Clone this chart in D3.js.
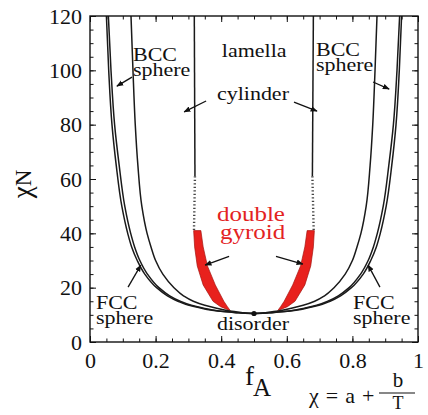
<!DOCTYPE html>
<html>
<head>
<meta charset="utf-8">
<script src="https://cdn.jsdelivr.net/npm/d3@7"></script>
<style>
body { margin: 0; background: #fff; }
text { font-family: "Liberation Serif", "Times New Roman", "DejaVu Serif", serif; fill: #111; }
</style>
</head>
<body>
<svg id="drawing_region"></svg>
<script>
// chi*N levels shared by the phase boundaries
const chiN = [120, 100, 80, 65, 50, 40, 35, 30, 25, 20, 17, 15, 13.5, 12.5, 11.8, 11.2, 10.8, 10.6, 10.5];

// f_A of each boundary at those levels
const odtLeft  = [0.050, 0.057, 0.067, 0.080, 0.097, 0.115, 0.127, 0.144, 0.167, 0.203, 0.236, 0.268, 0.302, 0.338, 0.368, 0.405, 0.445, 0.472, 0.5];
const fccLeft  = [0.056, 0.064, 0.075, 0.089, 0.106, 0.124, 0.136, 0.152, 0.175, 0.210, 0.243, 0.275, 0.309, 0.344, 0.373, 0.410, 0.448, 0.474, 0.5];
const bccLeft  = [0.125, 0.131, 0.138, 0.146, 0.158, 0.174, 0.186, 0.200, 0.222, 0.256, 0.285, 0.315, 0.350, 0.383, 0.410, 0.440, 0.465, 0.483, 0.5];
const odtRight = [0.950, 0.943, 0.933, 0.920, 0.903, 0.885, 0.873, 0.856, 0.833, 0.797, 0.764, 0.732, 0.698, 0.662, 0.632, 0.595, 0.555, 0.528, 0.5];
const fccRight = [0.944, 0.936, 0.925, 0.911, 0.894, 0.876, 0.864, 0.848, 0.825, 0.790, 0.757, 0.725, 0.691, 0.656, 0.627, 0.590, 0.552, 0.526, 0.5];
const bccRight = [0.875, 0.869, 0.862, 0.854, 0.842, 0.826, 0.814, 0.800, 0.778, 0.744, 0.715, 0.685, 0.650, 0.617, 0.590, 0.560, 0.535, 0.517, 0.5];

// cylinder / lamella boundary: solid part, dotted part
const cylChi       = [120, 61];
const cylLeft      = [0.318, 0.320];
const cylRight     = [0.681, 0.678];
const cylDotChi    = [61, 41];
const cylDotLeft   = [0.320, 0.317];
const cylDotRight  = [0.678, 0.682];

// double gyroid window
const gyrChi        = [41, 35, 28, 21, 15, 13, 11.5];
const gyrLeftOuter  = [0.316, 0.319, 0.327, 0.345, 0.375, 0.398, 0.428];
const gyrLeftInner  = [0.338, 0.345, 0.358, 0.382, 0.408, 0.419, 0.428];
const gyrRightOuter = [0.684, 0.681, 0.673, 0.655, 0.625, 0.602, 0.572];
const gyrRightInner = [0.662, 0.655, 0.642, 0.618, 0.592, 0.581, 0.572];

// critical point
const critical = [0.5, 10.5];

// tick labels
const xTicks = [0, 0.2, 0.4, 0.6, 0.8, 1];
const xMinor = [0, 0.05, 0.1, 0.15, 0.2, 0.25, 0.3, 0.35, 0.4, 0.45, 0.5, 0.55, 0.6, 0.65, 0.7, 0.75, 0.8, 0.85, 0.9, 0.95, 1];
const yTicks = [0, 20, 40, 60, 80, 100, 120];
const yMinor = d3.range(0, 121, 5);

const zip = (fs, cs) => fs.map((f, i) => [f, cs[i]]);

const W = 428, H = 415;
const mLeft = 90, mRight = 418, mTop = 16, mBottom = 342;

const svg = d3.select('#drawing_region')
    .attr('width', W)
    .attr('height', H);

const xscale = d3.scaleLinear().domain([0, 1]).range([mLeft, mRight]);
const yscale = d3.scaleLinear().domain([0, 120]).range([mBottom, mTop]);

const line = d3.line()
    .x(d => xscale(d[0]))
    .y(d => yscale(d[1]))
    .curve(d3.curveMonotoneY);

// arrow head
svg.append('defs').append('marker')
    .attr('id', 'head')
    .attr('viewBox', '0 0 10 10')
    .attr('refX', 9).attr('refY', 5)
    .attr('markerWidth', 7).attr('markerHeight', 7)
    .attr('markerUnits', 'userSpaceOnUse')
    .attr('orient', 'auto')
    .append('path')
    .attr('d', 'M0,1 L10,5 L0,9 Z')
    .attr('fill', '#111');

// gyroid regions: outer edge down, inner edge back up
const gyrLeft = zip(gyrLeftOuter, gyrChi).concat(zip(gyrLeftInner, gyrChi).reverse());
const gyrRight = zip(gyrRightOuter, gyrChi).concat(zip(gyrRightInner, gyrChi).reverse());
const edge = d3.line()
    .x(p => xscale(p[0]))
    .y(p => yscale(p[1]))
    .curve(d3.curveLinear);

svg.selectAll('.gyroid')
    .data([gyrLeft, gyrRight])
    .enter()
    .append('path')
    .attr('class', 'gyroid')
    .attr('d', d => edge(d) + 'Z')
    .attr('fill', '#e8211d')
    .attr('stroke', '#a51410')
    .attr('stroke-width', 0.7);

// phase boundaries
const bounds = [odtLeft, fccLeft, bccLeft, odtRight, fccRight, bccRight].map(fs => zip(fs, chiN));
svg.selectAll('.bound')
    .data(bounds)
    .enter()
    .append('path')
    .attr('class', 'bound')
    .attr('d', line)
    .attr('fill', 'none')
    .attr('stroke', '#1a1a1a')
    .attr('stroke-width', 1.5);

svg.selectAll('.cyl')
    .data([zip(cylLeft, cylChi), zip(cylRight, cylChi)])
    .enter()
    .append('path')
    .attr('class', 'cyl')
    .attr('d', line)
    .attr('fill', 'none')
    .attr('stroke', '#1a1a1a')
    .attr('stroke-width', 1.5);

svg.selectAll('.cyldot')
    .data([zip(cylDotLeft, cylDotChi), zip(cylDotRight, cylDotChi)])
    .enter()
    .append('path')
    .attr('class', 'cyldot')
    .attr('d', line)
    .attr('fill', 'none')
    .attr('stroke', '#444')
    .attr('stroke-width', 2.4)
    .attr('stroke-dasharray', '1.3,2.2');

svg.append('circle')
    .attr('cx', xscale(critical[0]))
    .attr('cy', yscale(critical[1]))
    .attr('r', 2.6)
    .attr('fill', '#111');

// axes (ticks inside on all four sides)
const tickStyle = g => {
    g.select('.domain').remove();
    g.selectAll('line').attr('stroke', '#111').attr('stroke-width', 1);
};
const labelStyle = g => g.selectAll('text')
    .attr('font-size', 22)
    .attr('fill', '#111');

svg.append('g').attr('transform', `translate(0,${mBottom})`)
    .call(d3.axisBottom(xscale).tickValues(xMinor).tickSize(-3.5).tickFormat(''))
    .call(tickStyle);
svg.append('g').attr('transform', `translate(0,${mTop})`)
    .call(d3.axisTop(xscale).tickValues(xMinor).tickSize(-3.5).tickFormat(''))
    .call(tickStyle);
svg.append('g').attr('transform', `translate(${mLeft},0)`)
    .call(d3.axisLeft(yscale).tickValues(yMinor).tickSize(-3.5).tickFormat(''))
    .call(tickStyle);
svg.append('g').attr('transform', `translate(${mRight},0)`)
    .call(d3.axisRight(yscale).tickValues(yMinor).tickSize(-3.5).tickFormat(''))
    .call(tickStyle);

svg.append('g').attr('transform', `translate(0,${mBottom})`)
    .call(d3.axisBottom(xscale).tickValues(xTicks).tickSize(-6).tickPadding(10).tickFormat(d3.format('~g')))
    .call(tickStyle)
    .call(labelStyle);
svg.append('g').attr('transform', `translate(${mLeft},0)`)
    .call(d3.axisLeft(yscale).tickValues(yTicks).tickSize(-6).tickPadding(8).tickFormat(d3.format('~g')))
    .call(tickStyle)
    .call(labelStyle);
svg.append('g').attr('transform', `translate(0,${mTop})`)
    .call(d3.axisTop(xscale).tickValues(xTicks).tickSize(-6).tickFormat(''))
    .call(tickStyle);
svg.append('g').attr('transform', `translate(${mRight},0)`)
    .call(d3.axisRight(yscale).tickValues(yTicks).tickSize(-6).tickFormat(''))
    .call(tickStyle);

svg.append('rect')
    .attr('x', mLeft).attr('y', mTop)
    .attr('width', mRight - mLeft).attr('height', mBottom - mTop)
    .attr('fill', 'none')
    .attr('stroke', '#111')
    .attr('stroke-width', 1.4);

// arrows, in data units [f, chiN] -> head
const arrows = [
    [[0.128, 97.5], [0.082, 94.2]],
    [[0.863, 95.7], [0.912, 93.1]],
    [[0.354, 88.7], [0.287, 84.7]],
    [[0.622, 88.3], [0.692, 85.0]],
    [[0.116, 20.2], [0.155, 28.3]],
    [[0.884, 20.2], [0.848, 28.3]],
    [[0.424, 31.5], [0.351, 28.3]],
    [[0.567, 31.5], [0.649, 28.7]],
];
svg.selectAll('.arrow')
    .data(arrows)
    .enter()
    .append('line')
    .attr('class', 'arrow')
    .attr('x1', d => xscale(d[0][0])).attr('y1', d => yscale(d[0][1]))
    .attr('x2', d => xscale(d[1][0])).attr('y2', d => yscale(d[1][1]))
    .attr('stroke', '#111')
    .attr('stroke-width', 1.3)
    .attr('marker-end', 'url(#head)');

// phase labels (slightly squashed type, as in the original figure);
// two-line labels are one text with a tspan per line
const labels = [
    { lines: ['BCC', 'sphere'], f: 0.131, c: 103.3 },
    { lines: ['BCC', 'sphere'], f: 0.689, c: 105.1 },
    { lines: ['lamella'], f: 0.402, c: 104.9 },
    { lines: ['cylinder'], f: 0.387, c: 89.1 },
    { lines: ['FCC', 'sphere'], f: 0.018, c: 12.0 },
    { lines: ['FCC', 'sphere'], f: 0.802, c: 12.0 },
    { lines: ['disorder'], f: 0.387, c: 4.4 },
];
const lab = svg.selectAll('.label')
    .data(labels)
    .enter()
    .append('text')
    .attr('class', 'label')
    .attr('transform', d => `translate(${xscale(d.f)},${yscale(d.c)}) scale(1,0.84)`)
    .attr('font-size', 22);
lab.selectAll('tspan')
    .data(d => d.lines)
    .enter()
    .append('tspan')
    .attr('x', 0)
    .attr('dy', (d, i) => i === 0 ? 0 : 17.8)
    .text(d => d);

const red = svg.append('text')
    .attr('transform', `translate(${xscale(0.387)},${yscale(44.4)}) scale(1,0.84)`)
    .attr('font-size', 25)
    .style('fill', '#e3231f');
red.append('tspan').attr('x', 0).text('double');
red.append('tspan').attr('x', 3).attr('dy', 20.7).text('gyroid');

// axis titles
const ylab = svg.append('text')
    .attr('transform', 'translate(31,184) rotate(-90)')
    .attr('text-anchor', 'middle');
ylab.append('tspan').attr('font-size', 27).text('χ');
ylab.append('tspan').attr('font-size', 23).text('N');

const xlab = svg.append('text').attr('x', 245).attr('y', 385);
xlab.append('tspan').attr('font-size', 27).text('f');
xlab.append('tspan').attr('font-size', 25).attr('dy', 11).attr('dx', -1).text('A');

svg.append('text')
    .attr('x', 309).attr('y', 403)
    .attr('font-size', 22)
    .attr('word-spacing', 1.5)
    .text('χ = a +');
svg.append('text')
    .attr('x', 398).attr('y', 387)
    .attr('font-size', 21)
    .attr('text-anchor', 'middle')
    .text('b');
svg.append('line')
    .attr('x1', 379).attr('x2', 415)
    .attr('y1', 393).attr('y2', 393)
    .attr('stroke', '#111').attr('stroke-width', 1.1);
svg.append('text')
    .attr('x', 398).attr('y', 409)
    .attr('font-size', 18)
    .attr('text-anchor', 'middle')
    .text('T');
</script>
</body>
</html>
